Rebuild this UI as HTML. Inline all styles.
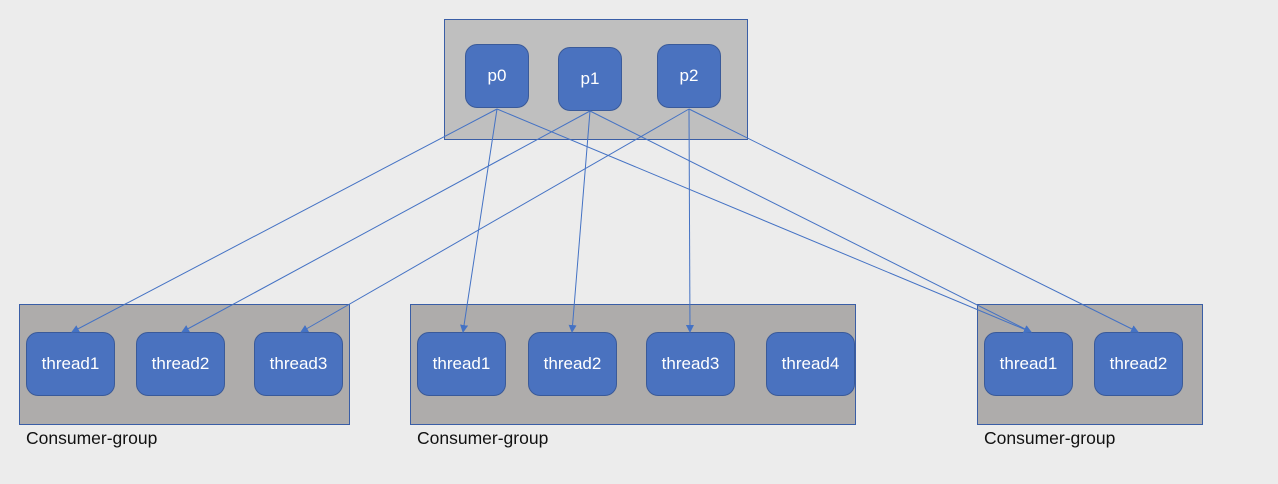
<!DOCTYPE html><html><head><style>
body{margin:0;width:1278px;height:484px;background:#ececec;position:relative;font-family:"Liberation Sans",sans-serif;overflow:hidden}
.g{position:absolute;background:#aeacab;border:1px solid #3a5ea6;box-sizing:border-box}
.t{position:absolute;background:#4a72bf;border:1px solid #3a5a99;border-radius:12px;box-sizing:border-box;color:#fff;font-size:17px;display:flex;align-items:center;justify-content:center;width:89px;height:64px;top:332px}
.l{position:absolute;top:428px;font-size:17.5px;color:#111}
svg{position:absolute;left:0;top:0}
</style></head><body>
<div class="g" style="left:444px;top:19px;width:304px;height:121px;background:#bfbfbf"></div>
<div class="t" style="left:465px;top:44px;width:64px;height:64px">p0</div>
<div class="t" style="left:558px;top:47px;width:64px;height:64px">p1</div>
<div class="t" style="left:657px;top:44px;width:64px;height:64px">p2</div>
<div class="g" style="left:19px;top:304px;width:331px;height:121px"></div>
<div class="g" style="left:410px;top:304px;width:446px;height:121px"></div>
<div class="g" style="left:977px;top:304px;width:226px;height:121px"></div>
<div class="t" style="left:26px">thread1</div>
<div class="t" style="left:136px">thread2</div>
<div class="t" style="left:254px">thread3</div>
<div class="t" style="left:417px">thread1</div>
<div class="t" style="left:528px">thread2</div>
<div class="t" style="left:646px">thread3</div>
<div class="t" style="left:766px">thread4</div>
<div class="t" style="left:984px">thread1</div>
<div class="t" style="left:1094px">thread2</div>
<div class="l" style="left:26px">Consumer-group</div>
<div class="l" style="left:417px">Consumer-group</div>
<div class="l" style="left:984px">Consumer-group</div>
<svg width="1278" height="484"><defs><marker id="a" markerWidth="8" markerHeight="8" refX="7" refY="4" orient="auto" markerUnits="userSpaceOnUse"><path d="M0,0L8,4L0,8z" fill="#4472c4"/></marker></defs>
<g stroke="#4472c4" stroke-width="1" marker-end="url(#a)" fill="none">
<line x1="497" y1="109" x2="72" y2="332"/><line x1="497" y1="109" x2="463" y2="332"/><line x1="497" y1="109" x2="1031" y2="332"/>
<line x1="590" y1="111" x2="182" y2="332"/><line x1="590" y1="111" x2="572" y2="332"/><line x1="590" y1="111" x2="1031" y2="332"/>
<line x1="689" y1="109" x2="301" y2="332"/><line x1="689" y1="109" x2="690" y2="332"/><line x1="689" y1="109" x2="1138" y2="332"/>
</g></svg>
</body></html>
